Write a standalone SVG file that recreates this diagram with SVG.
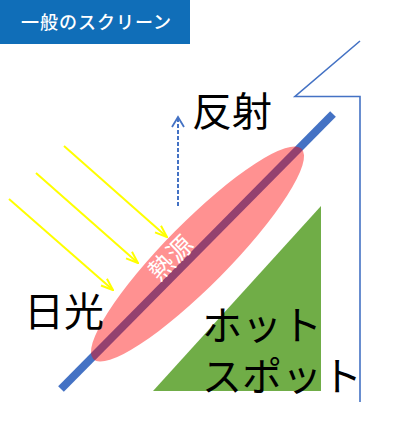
<svg xmlns="http://www.w3.org/2000/svg" width="407" height="429" viewBox="0 0 407 429">
<defs>
<style>
.jp{font-family:"Noto Sans CJK JP","Noto Sans",sans-serif;}
.big{font-size:40px;fill:#000;}
.sun{stroke:#FFFF00;stroke-width:2;fill:none;}
.blue{stroke:#4472C4;fill:none;}
</style>
<marker id="yhead" viewBox="0 0 14 12" refX="13" refY="6" markerWidth="14" markerHeight="12" markerUnits="userSpaceOnUse" orient="auto">
<path d="M1,1.5 L13,6 L1,10.5" fill="none" stroke="#FFFF00" stroke-width="2"/>
</marker>
<marker id="bhead" viewBox="0 0 14 14" refX="12" refY="7" markerWidth="14" markerHeight="14" markerUnits="userSpaceOnUse" orient="auto">
<path d="M2,1 L12,7 L2,13" fill="none" stroke="#4472C4" stroke-width="1.8"/>
</marker>
</defs>
<rect width="407" height="429" fill="#fff"/>
<g id="header">
<rect x="0" y="0" width="190" height="44" fill="#106EB8"/>
<text class="jp" x="21" y="29" font-size="18" font-weight="500" letter-spacing="1" fill="#fff">一般のスクリーン</text>
</g>
<g id="hotspot">
<polygon points="321,206 321,391 153,391" fill="#70AD47"/>
</g>
<g id="screen">
<line x1="333" y1="114" x2="61" y2="389" stroke="#4472C4" stroke-width="8"/>
</g>
<g id="heat">
<ellipse cx="197.5" cy="254" rx="148" ry="32" transform="rotate(-45.3 197.5 254)" fill="#FF0000" fill-opacity="0.43"/>
<text class="jp" transform="translate(171,259) rotate(-45)" x="1" y="8" font-size="25" letter-spacing="1" text-anchor="middle" fill="#fff">熱源</text>
</g>
<g id="connectors">
<line class="sun" x1="64" y1="146" x2="167" y2="237" marker-end="url(#yhead)"/>
<line class="sun" x1="36" y1="173" x2="138" y2="263" marker-end="url(#yhead)"/>
<line class="sun" x1="9" y1="199" x2="113" y2="290" marker-end="url(#yhead)"/>
<line class="blue" x1="178" y1="206" x2="178" y2="117" stroke-width="2" stroke-dasharray="4,2" marker-end="url(#bhead)"/>
<polyline class="blue" points="360,41 295,96.5 360,96.5 360,402" stroke-width="1.6"/>
</g>
<g id="labels">
<text class="jp big" x="192" y="126">反射</text>
<text class="jp big" x="24" y="326">日光</text>
<text class="jp big" x="202" y="340" font-size="41">ホット</text>
<text class="jp big" x="202" y="391" font-size="41">スポット</text>
</g>
</svg>
